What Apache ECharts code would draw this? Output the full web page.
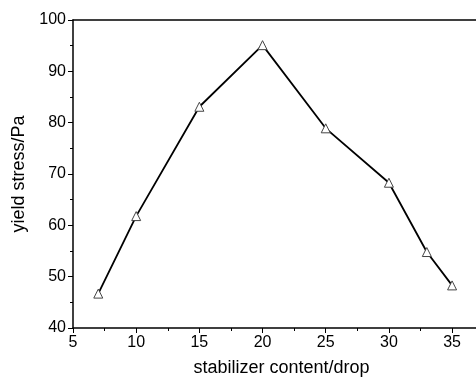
<!DOCTYPE html>
<html><head><meta charset="utf-8">
<script src="https://cdn.jsdelivr.net/npm/echarts@6/dist/echarts.min.js"></script>
<style>html,body{margin:0;padding:0;background:#fff}#c{width:476px;height:378px}</style>
</head><body><div id="c"></div>
<script>
var xValues = [7, 10, 15, 20, 25, 30, 33, 35];
var yValues = [46.7, 61.8, 83.1, 95.1, 78.9, 68.3, 54.8, 48.3];
var xTitle = 'stabilizer content/drop';
var yTitle = 'yield stress/Pa';

var chart = echarts.init(document.getElementById('c'));
var font = 'Liberation Sans, Arial, sans-serif';
chart.setOption({
  animation: false,
  grid: {left: 73, width: 417, top: 20, height: 308, containLabel: false, outerBoundsMode: 'none'},
  xAxis: [{
    type: 'value', min: 5, max: 38, interval: 5,
    name: xTitle, nameLocation: 'middle', nameGap: 31,
    nameTextStyle: {fontFamily: font, fontSize: 18, color: '#000'},
    axisLine: {show: true, onZero: false, lineStyle: {color: '#000', width: 1.5}},
    axisTick: {show: true, inside: false, length: 5, lineStyle: {color: '#000'}},
    minorTick: {show: true, splitNumber: 2, length: 3, lineStyle: {color: '#000'}},
    axisLabel: {fontFamily: font, fontSize: 16, color: '#000', margin: 7,
      formatter: function (v) { return v <= 35 ? v : ''; }},
    splitLine: {show: false}
  }, {
    type: 'value', position: 'top', min: 5, max: 38,
    axisLine: {show: true, onZero: false, lineStyle: {color: '#000', width: 1.5}},
    axisTick: {show: false}, axisLabel: {show: false}, splitLine: {show: false}
  }],
  yAxis: {
    type: 'value', min: 40, max: 100, interval: 10,
    name: yTitle, nameLocation: 'middle', nameGap: 43,
    nameTextStyle: {fontFamily: font, fontSize: 18, color: '#000'},
    axisLine: {show: true, lineStyle: {color: '#000', width: 1.5}},
    axisTick: {show: true, inside: false, length: 5, lineStyle: {color: '#000'}},
    minorTick: {show: true, splitNumber: 2, length: 3, lineStyle: {color: '#000'}},
    axisLabel: {fontFamily: font, fontSize: 16, color: '#000', margin: 7},
    splitLine: {show: false}
  },
  series: [{
    type: 'line',
    data: xValues.map(function (x, i) { return [x, yValues[i]]; }),
    lineStyle: {color: '#000', width: 1.8},
    symbol: 'triangle', symbolSize: 9,
    itemStyle: {color: '#fff', borderColor: '#444', borderWidth: 1},
    z: 5
  }]
});
</script></body></html>
